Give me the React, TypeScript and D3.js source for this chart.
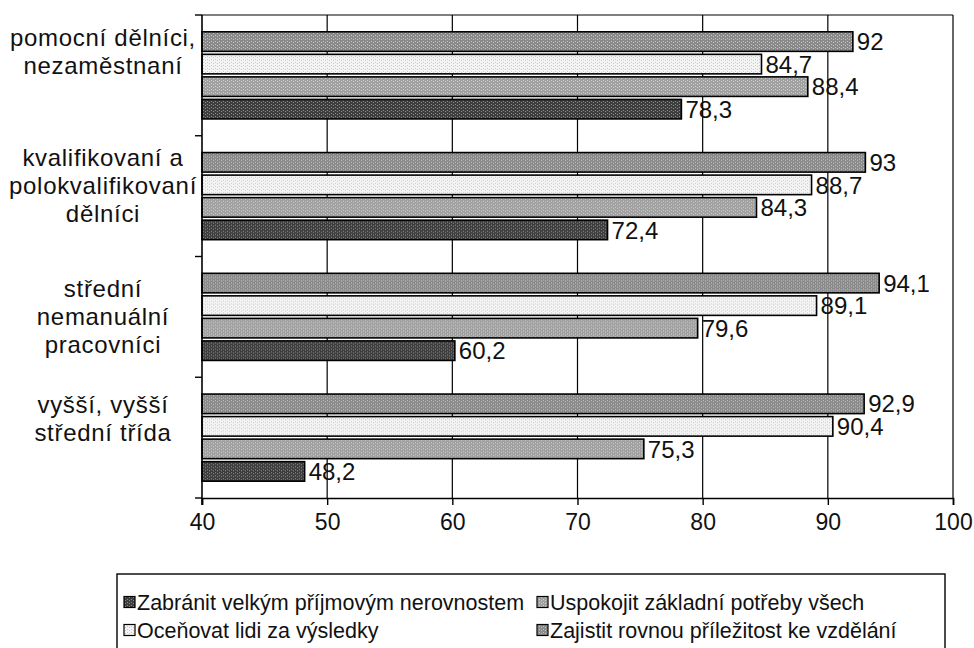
import React, { useEffect, useRef } from 'react';
import * as d3 from 'd3';

// categories (top to bottom) and their label lines
const categories = ['pomocni', 'kvalifikovani', 'stredni', 'vyssi'];
const categoryLines = [
    ['pomocní dělníci,', 'nezaměstnaní'],
    ['kvalifikovaní a', 'polokvalifikovaní', 'dělníci'],
    ['střední', 'nemanuální', 'pracovníci'],
    ['vyšší, vyšší', 'střední třída'],
];

// series, in the order the bars sit inside a group (top to bottom)
const seriesNames = [
    'Zajistit rovnou příležitost ke vzdělání',
    'Oceňovat lidi za výsledky',
    'Uspokojit základní potřeby všech',
    'Zabránit velkým příjmovým nerovnostem',
];
const zajistit = [92, 93, 94.1, 92.9];
const ocenovat = [84.7, 88.7, 89.1, 90.4];
const uspokojit = [88.4, 84.3, 79.6, 75.3];
const zabranit = [78.3, 72.4, 60.2, 48.2];
const seriesValues = [zajistit, ocenovat, uspokojit, zabranit];

// legend order as in the picture (row by row)
const legendOrder = [3, 2, 1, 0];

const xTicks = [40, 50, 60, 70, 80, 90, 100];

// base colour and speckle colour of each (scanned) bar fill
const colors = ['#8a8a8a', '#f4f4f4', '#a0a0a0', '#3e3e3e'];
const speckles = ['#c4c4c4', '#c8c8c8', '#d0d0d0', '#8c8c8c'];
const font = "'Liberation Sans', Arial, sans-serif";

// vertical nudge of the category label blocks (the scan is not even)
const labelShift = [-24, -11, -1, -19];

export default function App() {
    const svgRef = useRef<SVGSVGElement>(null);

    const width = 974;
    const height = 648;
    const margin = { left: 202, right: 21, top: 15, bottom: 150 };

    useEffect(() => {
        const svg = d3.select(svgRef.current);
        svg.selectAll('*').remove();

        // speckled fills
        const defs = svg.append('defs');
        colors.forEach((c, i) => {
            const p = defs.append('pattern')
                .attr('id', `fill${i}`)
                .attr('patternUnits', 'userSpaceOnUse')
                .attr('width', 4).attr('height', 3);
            p.append('rect').attr('width', 4).attr('height', 3).attr('fill', c);
            p.append('rect').attr('x', 1).attr('y', 0).attr('width', 1).attr('height', 1).attr('fill', speckles[i]);
            p.append('rect').attr('x', 3).attr('y', 2).attr('width', 1).attr('height', 1).attr('fill', speckles[i]);
        });

        const x = d3.scaleLinear().domain([40, 100]).range([margin.left, width - margin.right]);
        const y = d3.scaleBand<string>().domain(categories)
            .range([margin.top, height - margin.bottom]).paddingInner(0).paddingOuter(0);
        const inner = d3.scaleBand<number>().domain(d3.range(seriesNames.length))
            .range([0, y.bandwidth()]).paddingOuter(0.68).paddingInner(0);

        const plotTop = margin.top;
        const plotBottom = height - margin.bottom;

        // plot frame and gridlines
        svg.append('g')
            .selectAll('line')
            .data(xTicks.slice(1))
            .enter().append('line')
            .attr('x1', (d) => x(d)).attr('x2', (d) => x(d))
            .attr('y1', plotTop).attr('y2', plotBottom)
            .attr('stroke', '#000').attr('stroke-width', 1.2);
        svg.append('line')
            .attr('x1', x(40)).attr('x2', x(100))
            .attr('y1', plotTop).attr('y2', plotTop)
            .attr('stroke', '#000').attr('stroke-width', 1.2);

        // bars
        const groups = svg.append('g').selectAll('g')
            .data(categories)
            .enter().append('g')
            .attr('transform', (d) => `translate(0, ${y(d)})`);

        groups.each(function (cat, ci) {
            const g = d3.select(this);
            seriesValues.forEach((vals, si) => {
                const v = vals[ci];
                const by = inner(si)! + 1.5;
                const bh = inner.bandwidth() - 3;
                g.append('rect')
                    .attr('x', x(40))
                    .attr('y', by)
                    .attr('width', x(v) - x(40))
                    .attr('height', bh)
                    .attr('fill', `url(#fill${si})`)
                    .attr('stroke', '#000')
                    .attr('stroke-width', 1.6);
                g.append('text')
                    .attr('x', x(v) + 4)
                    .attr('y', by + bh / 2)
                    .attr('dy', '0.36em')
                    .attr('font-family', font)
                    .attr('font-size', 24)
                    .attr('fill', '#111')
                    .text(String(v).replace('.', ','));
            });
        });

        // x axis
        const xAxis = svg.append('g')
            .attr('transform', `translate(0, ${plotBottom})`)
            .call(d3.axisBottom(x).tickValues(xTicks).tickSize(7).tickPadding(9).tickFormat((d) => String(d)));
        xAxis.select('.domain').attr('stroke', '#000').attr('stroke-width', 1.6);
        xAxis.selectAll('.tick line').attr('stroke', '#000').attr('stroke-width', 1.4);
        xAxis.selectAll('.tick text')
            .attr('font-family', font).attr('font-size', 23).attr('fill', '#111');

        // y axis (category ticks on band edges)
        svg.append('line')
            .attr('x1', x(40)).attr('x2', x(40))
            .attr('y1', plotTop).attr('y2', plotBottom + 7)
            .attr('stroke', '#000').attr('stroke-width', 1.6);
        const edges = categories.map((c) => y(c)!).concat([plotBottom]);
        svg.append('g').selectAll('line')
            .data(edges)
            .enter().append('line')
            .attr('x1', x(40) - 7).attr('x2', x(40))
            .attr('y1', (d) => d).attr('y2', (d) => d)
            .attr('stroke', '#000').attr('stroke-width', 1.4);

        // category labels
        const lineH = 28;
        categories.forEach((c, ci) => {
            const lines = categoryLines[ci];
            const cy = y(c)! + y.bandwidth() / 2 + labelShift[ci];
            lines.forEach((ln, li) => {
                svg.append('text')
                    .attr('font-family', font)
                    .attr('font-size', 24)
                    .attr('letter-spacing', 0.7)
                    .attr('fill', '#111')
                    .attr('text-anchor', 'middle')
                    .attr('x', 103)
                    .attr('y', cy + (li - (lines.length - 1) / 2) * lineH)
                    .attr('dy', '0.36em')
                    .text(ln);
            });
        });

        // legend
        const lg = svg.append('g');
        lg.append('rect')
            .attr('x', 117).attr('y', 574)
            .attr('width', 828).attr('height', 90)
            .attr('fill', '#fff').attr('stroke', '#000').attr('stroke-width', 1.4);
        const colX = [124, 537];
        const rowY = [602, 630];
        legendOrder.forEach((si, i) => {
            const lx = colX[i % 2];
            const ly = rowY[Math.floor(i / 2)];
            lg.append('rect')
                .attr('x', lx).attr('y', ly - 5.5)
                .attr('width', 11).attr('height', 11)
                .attr('fill', `url(#fill${si})`).attr('stroke', '#000').attr('stroke-width', 1.2);
            lg.append('text')
                .attr('x', lx + 13).attr('y', ly)
                .attr('dy', '0.36em')
                .attr('font-family', font)
                .attr('font-size', 21.5)
                .attr('fill', '#111')
                .text(seriesNames[si]);
        });
    }, []);

    return (
        <svg ref={svgRef} width={width} height={height}
            style={{ position: 'absolute', left: 0, top: 0, background: '#fff' }} />
    );
}
